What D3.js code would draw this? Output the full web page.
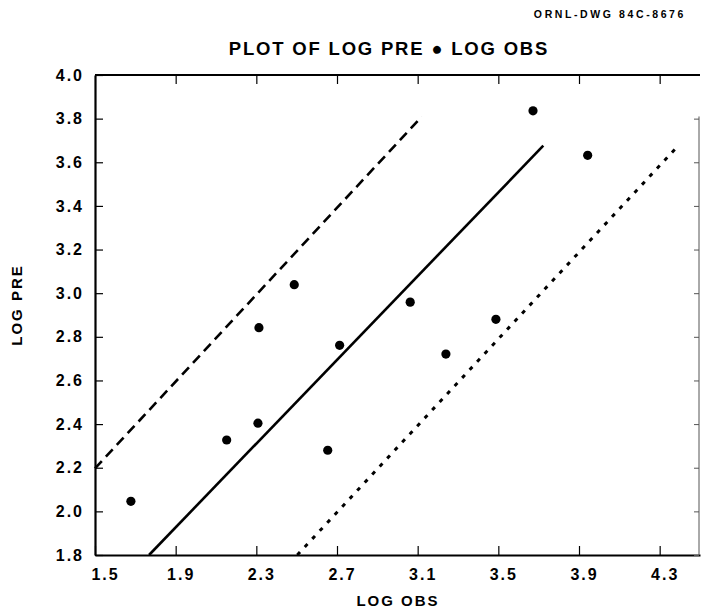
<!DOCTYPE html>
<html><head><meta charset="utf-8">
<script src="https://cdn.jsdelivr.net/npm/d3@7"></script>
<style>
body{margin:0;background:#fff;}
svg{display:block;font-family:"Liberation Sans",Arial,sans-serif;font-weight:bold;}
</style></head>
<body><svg id="c" width="701" height="611"></svg>
<script>
const logObs = [1.678, 2.153, 2.308, 2.313, 2.488, 2.654, 2.713, 3.063, 3.240, 3.488, 3.672, 3.943];
const logPre = [2.046, 2.327, 2.404, 2.842, 3.039, 2.280, 2.761, 2.959, 2.721, 2.880, 3.836, 3.632];
const solidLine = [[1.768, 1.8], [3.723, 3.676]];
const dashedLine = [[1.5, 2.197], [3.12, 3.809]];
const dottedLine = [[2.503, 1.8], [4.384, 3.668]];
const xTicks = [1.5, 1.9, 2.3, 2.7, 3.1, 3.5, 3.9, 4.3];
const yTicks = [1.8, 2.0, 2.2, 2.4, 2.6, 2.8, 3.0, 3.2, 3.4, 3.6, 3.8, 4.0];
const title = "PLOT OF LOG PRE \u25CF LOG OBS";
const drawingId = "ORNL-DWG 84C-8676";
const xTitle = "LOG OBS", yTitle = "LOG PRE";

const svg = d3.select("#c");
const L = 95, R = 700, T = 75, B = 555;
const x = d3.scaleLinear().domain([1.5, 4.5]).range([L, R]);
const y = d3.scaleLinear().domain([1.8, 4.0]).range([B, T]);

// bottom axis
const gb = svg.append("g").attr("transform", `translate(0,${B})`)
  .call(d3.axisBottom(x).tickValues(xTicks).tickSizeInner(-9).tickSizeOuter(0).tickPadding(14).tickFormat(d3.format(".1f")));
gb.select(".domain").attr("stroke-width", 2.2);
gb.selectAll(".tick line").attr("stroke-width", 1.2);
gb.selectAll(".tick text").attr("x", d => d === 1.5 ? 10 : 5).attr("font-size", 16).attr("font-weight", "bold")
  .style("letter-spacing", "2px").attr("fill", "#000").attr("font-family", "Liberation Sans, Arial, sans-serif");

// top axis (ticks only)
const gt = svg.append("g").attr("transform", `translate(0,${T})`)
  .call(d3.axisTop(x).tickValues(xTicks.slice(1)).tickSizeInner(-9).tickSizeOuter(0).tickFormat(""));
gt.select(".domain").attr("stroke-width", 2.2).attr("d", `M${L},0H${R}`);
gt.selectAll(".tick line").attr("stroke-width", 1.2);

// left axis
const gl = svg.append("g").attr("transform", `translate(${L},0)`)
  .call(d3.axisLeft(y).tickValues(yTicks).tickSizeInner(-8).tickSizeOuter(0).tickPadding(11).tickFormat(d3.format(".1f")));
gl.select(".domain").attr("stroke-width", 2.2);
gl.selectAll(".tick line").attr("stroke-width", 1.2);
gl.selectAll(".tick text").attr("font-size", 16).attr("font-weight", "bold")
  .style("letter-spacing", "2px").attr("fill", "#000").attr("font-family", "Liberation Sans, Arial, sans-serif");

// right axis (partial, thin)
const gr = svg.append("g").attr("transform", `translate(${R - 1},0)`)
  .call(d3.axisRight(y).tickValues(yTicks.filter(v => v < 3.9)).tickSizeInner(-5).tickSizeOuter(0).tickFormat(""));
gr.select(".domain").attr("stroke", "#555").attr("stroke-width", 1).attr("d", `M0,${y(3.81)}V${B}`);
gr.selectAll(".tick line").attr("stroke", "#555");

// lines
const line = d3.line().x(d => x(d[0])).y(d => y(d[1]));
svg.append("path").attr("d", line(solidLine)).attr("stroke", "#000").attr("stroke-width", 2.6).attr("fill", "none");
svg.append("path").attr("d", line(dashedLine)).attr("stroke", "#000").attr("stroke-width", 2.6).attr("fill", "none")
  .attr("stroke-dasharray", "10,6");
svg.append("path").attr("d", line(dottedLine)).attr("stroke", "#000").attr("stroke-width", 3).attr("fill", "none")
  .attr("stroke-dasharray", "4,7");

// points
svg.append("g").selectAll("circle").data(logObs.map((o, i) => [o, logPre[i]])).join("circle")
  .attr("cx", d => x(d[0])).attr("cy", d => y(d[1])).attr("r", 4.6).attr("fill", "#000");

// texts
svg.append("text").attr("x", 389).attr("y", 55).attr("text-anchor", "middle").attr("font-size", 18.5)
  .style("letter-spacing", "1.8px").text(title);
svg.append("text").attr("x", 686).attr("y", 18).attr("text-anchor", "end").attr("font-size", 10.5)
  .style("letter-spacing", "2.6px").text(drawingId);
svg.append("text").attr("x", 398).attr("y", 606).attr("text-anchor", "middle").attr("font-size", 15)
  .style("letter-spacing", "2px").text(xTitle);
svg.append("text").attr("transform", "translate(22,305) rotate(-90)").attr("text-anchor", "middle").attr("font-size", 15)
  .style("letter-spacing", "2px").text(yTitle);
</script></body></html>
